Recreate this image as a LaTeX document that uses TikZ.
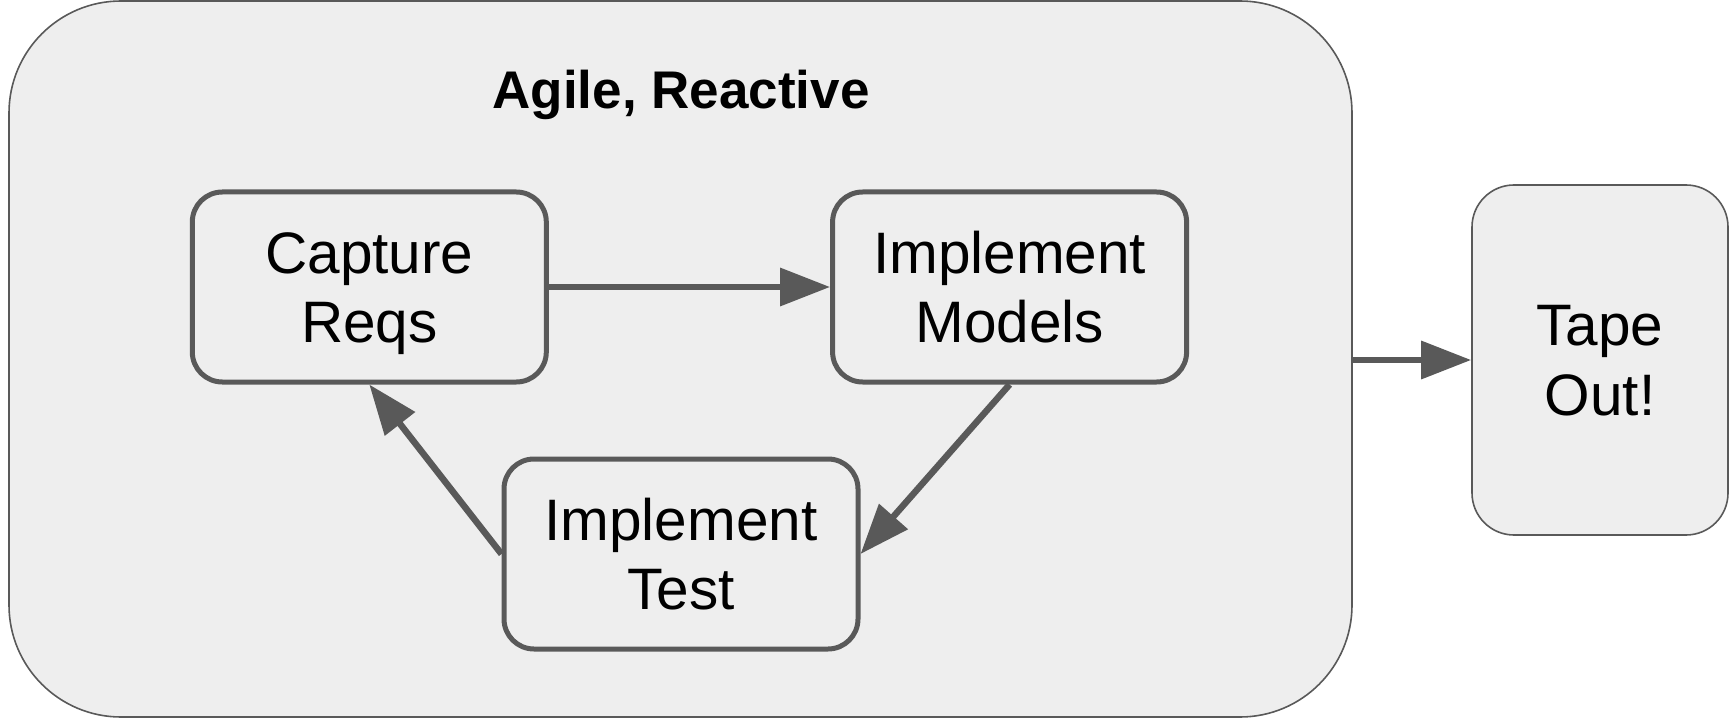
\documentclass[tikz,border=0pt]{standalone}
\usepackage{fontspec}
\setmainfont{Liberation Sans}
\usetikzlibrary{arrows.meta}
\definecolor{boxfill}{HTML}{EEEEEE}
\definecolor{edge}{HTML}{595959}
\tikzset{
  stage/.style={draw=edge, fill=boxfill, line width=5pt, rounded corners=30pt,
    minimum width=354pt, minimum height=190pt, inner sep=0pt, align=center,
    font=\fontsize{58.5}{68.4}\selectfont, text height=110.3pt, text depth=0pt},
  frame/.style={draw=edge, fill=boxfill, line width=1.6pt, inner sep=0pt},
  flow/.style={draw=edge, line width=6.5pt, -{Triangle[length=50pt,width=37pt]}},
}
\begin{document}
\begin{tikzpicture}[x=1pt,y=-1pt]
\useasboundingbox (0,0) rectangle (1729,719);
% enclosing phase box
\node[frame, rounded corners=112pt, minimum width=1343pt, minimum height=716pt] (agile) at (680.5,359) {};
\node[font=\fontsize{53}{63}\selectfont\bfseries, anchor=base, inner sep=0pt] (title) at (681,109) {Agile, Reactive};
% the three stages of the loop
\node[stage] (capture) at (369.3,287) {Capture\\Reqs};
\node[stage] (models) at (1009.6,287) {Implement\\Models};
\node[stage] (test) at (681,554) {Implement\\Test};
% final step
\node[frame, rounded corners=42pt, minimum width=256pt, minimum height=350pt,
  align=center, font=\fontsize{58.5}{70}\selectfont, text height=111.9pt, text depth=0pt] (tape) at (1600,360) {Tape\\Out!};
% connectors
\draw[flow] (capture.east) -- (models.west);
\draw[flow] (models.south) -- (test.east);
\draw[flow] (test.west) -- (capture.south);
\draw[flow] (agile.east |- tape.west) -- (tape.west);
\end{tikzpicture}
\end{document}
